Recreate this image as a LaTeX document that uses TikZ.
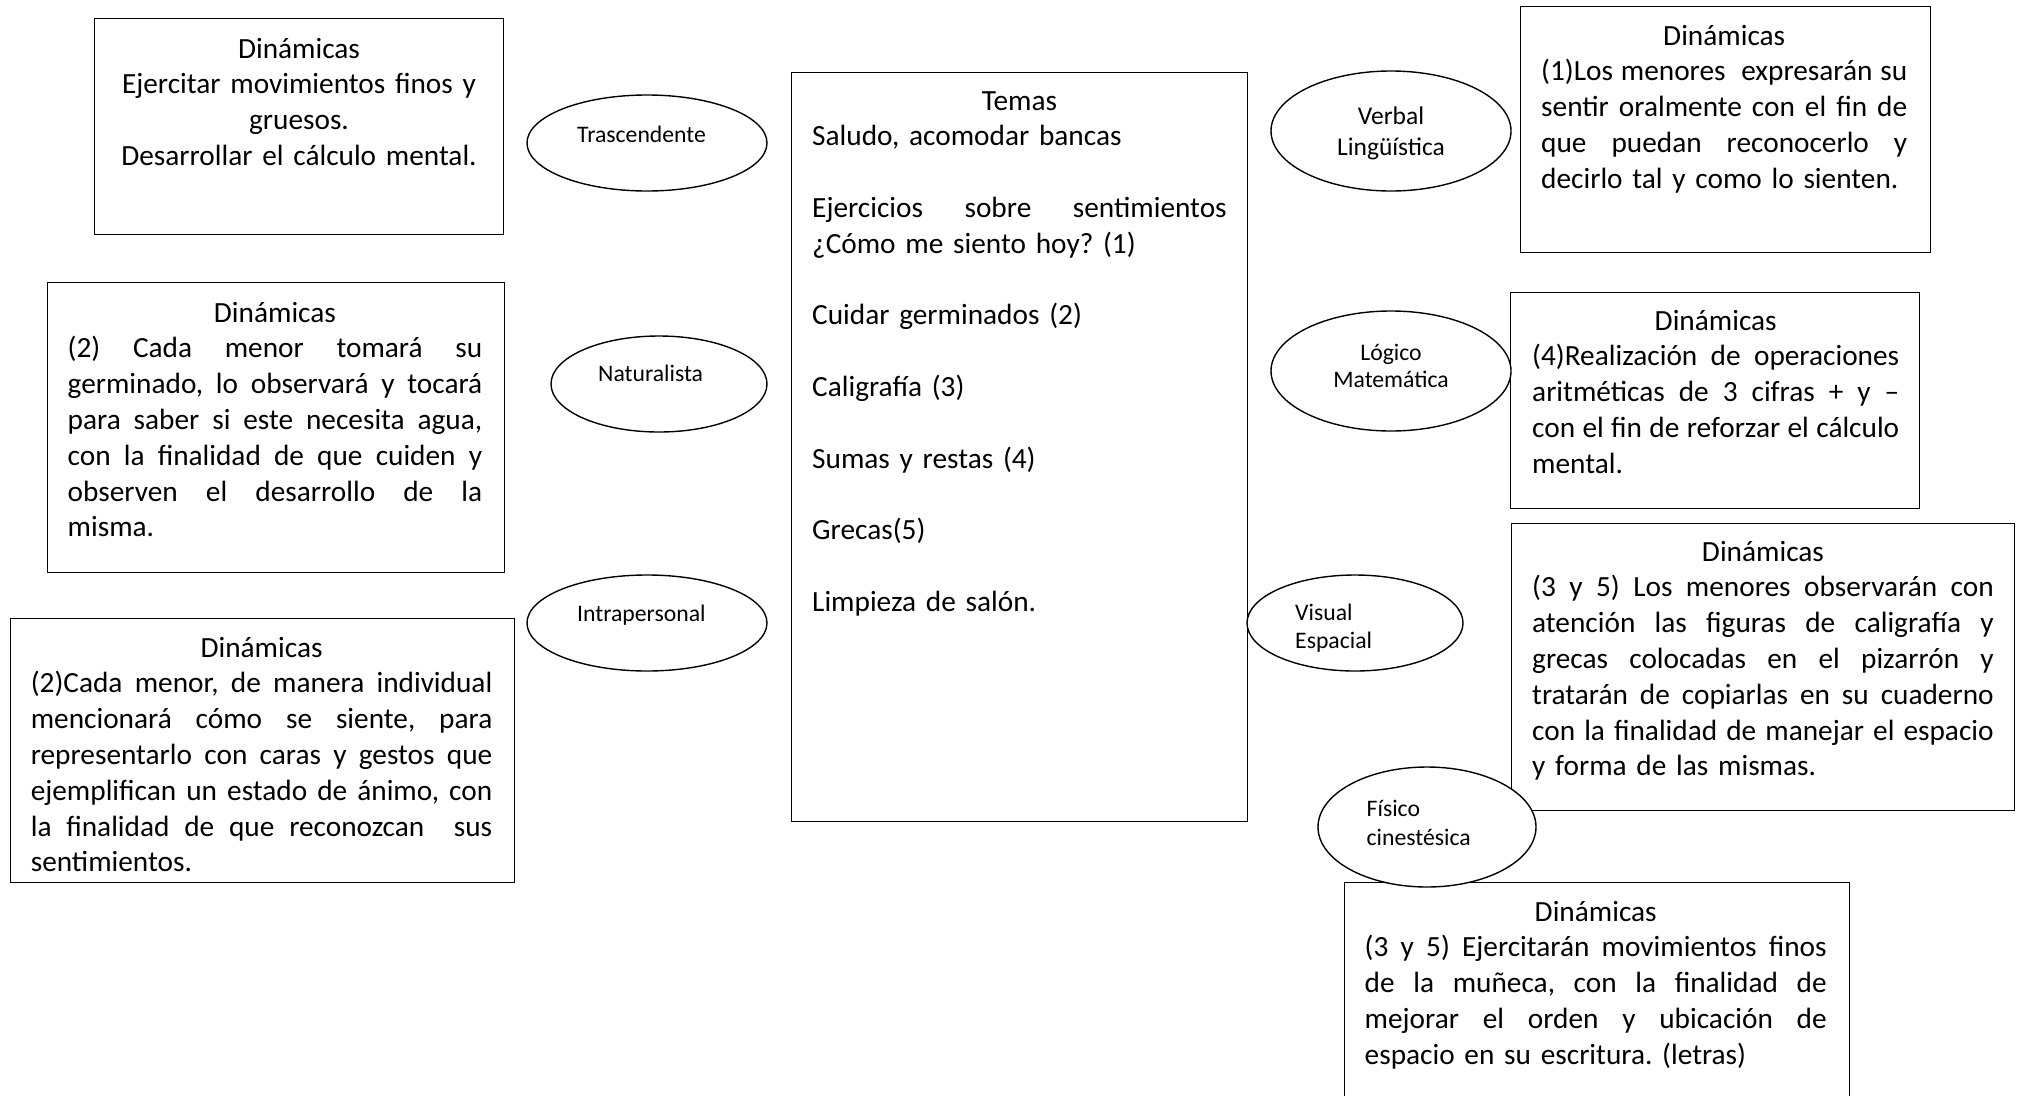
\documentclass[tikz,border=0pt]{standalone}
\usepackage{fontspec}
\setmainfont{Carlito}
\usetikzlibrary{shapes.geometric}
\frenchspacing

% one line stretched to the full text width: every interword space grows equally
\newcommand\jline[1]{\hbox to\linewidth{\spaceskip=\fontdimen2\font plus 1fil\relax #1}\par}
% one line centred in the text width
\newcommand\ctrline[1]{\makebox[\linewidth][c]{#1}\par}

\tikzset{
  box/.style={draw=black, line width=1.4pt, inner sep=0pt, anchor=north west},
  oval/.style={ellipse, draw=black, fill=white, line width=1.4pt, inner sep=0pt},
  txt/.style={inner sep=0pt, anchor=base west, font=\fontsize{29.3}{35.8}\selectfont},
  otxt/.style={inner sep=0pt, anchor=base west, font=\fontsize{23.7}{28.5}\selectfont},
}

\begin{document}
\begin{tikzpicture}[x=1pt, y=-1pt]
\useasboundingbox (0,0) rectangle (2021,1095);
\fill[white] (0,0) rectangle (2021,1095);
\clip (0,0) rectangle (2021,1095);

% ---------- boxes ----------
\node[box, minimum width=409pt, minimum height=216pt] (dynA) at (94,18) {};
\node[box, minimum width=457pt, minimum height=290pt] (dynB) at (47,282) {};
\node[box, minimum width=504pt, minimum height=264pt] (dynC) at (10,618) {};
\node[box, minimum width=456pt, minimum height=749pt] (temas) at (791,72) {};
\node[box, minimum width=410pt, minimum height=246pt] (dynD) at (1520,6) {};
\node[box, minimum width=409pt, minimum height=216pt] (dynE) at (1510,292) {};
\node[box, minimum width=503pt, minimum height=287pt] (dynF) at (1511,523) {};
\node[box, minimum width=505pt, minimum height=260pt] (dynG) at (1344,882) {};

% ---------- box texts ----------
\node[txt, anchor=base, text width=400pt] (tA) at (299,58) {%
  \ctrline{Dinámicas}
  \ctrline{Ejercitar movimientos finos y}
  \ctrline{gruesos.}
  \ctrline{Desarrollar el cálculo mental.}};

\node[txt, text width=414.5pt] (tB) at (67.5,322) {%
  \ctrline{Dinámicas}
  \jline{(2) Cada menor tomará su}
  \jline{germinado, lo observará y tocará}
  \jline{para saber si este necesita agua,}
  \jline{con la finalidad de que cuiden y}
  \jline{observen el desarrollo de la}
  misma.\par};

\node[txt, text width=461.5pt] (tC) at (30.6,657) {%
  \ctrline{Dinámicas}
  \jline{(2)Cada menor, de manera individual}
  \jline{mencionará cómo se siente, para}
  \jline{representarlo con caras y gestos que}
  \jline{ejemplifican un estado de ánimo, con}
  \jline{la finalidad de que reconozcan\ \ sus}
  sentimientos.\par};

\node[txt, text width=414.5pt] (tT) at (812,110) {%
  \ctrline{Temas}
  Saludo, acomodar bancas\par
  \mbox{}\par
  \jline{Ejercicios sobre sentimientos}
  ¿Cómo me siento hoy? (1)\par
  \mbox{}\par
  Cuidar germinados (2)\par
  \mbox{}\par
  Caligrafía (3)\par
  \mbox{}\par
  Sumas y restas (4)\par
  \mbox{}\par
  Grecas(5)\par
  \mbox{}\par
  Limpieza de salón.\par};

\node[txt, text width=366pt] (tD) at (1541,45) {%
  \ctrline{Dinámicas}
  \jline{(1)Los menores\ \ expresarán su}
  \jline{sentir oralmente con el fin de}
  \jline{que puedan reconocerlo y}
  decirlo tal y como lo sienten.\par};

\node[txt, text width=367pt] (tE) at (1532,330) {%
  \ctrline{Dinámicas}
  \jline{(4)Realización de operaciones}
  \jline{aritméticas de 3 cifras + y –}
  \jline{con el fin de reforzar el cálculo}
  mental.\par};

\node[txt, text width=461.5pt] (tF) at (1532,561) {%
  \ctrline{Dinámicas}
  \jline{(3 y 5) Los menores observarán con}
  \jline{atención las figuras de caligrafía y}
  \jline{grecas colocadas en el pizarrón y}
  \jline{tratarán de copiarlas en su cuaderno}
  \jline{con la finalidad de manejar el espacio}
  y forma de las mismas.\par};

\node[txt, text width=462pt] (tG) at (1364.5,921) {%
  \ctrline{Dinámicas}
  \jline{(3 y 5) Ejercitarán movimientos finos}
  \jline{de la muñeca, con la finalidad de}
  \jline{mejorar el orden y ubicación de}
  espacio en su escritura. (letras)\par};

% ---------- intelligences (ellipses) ----------
\node[oval, minimum width=240pt, minimum height=96pt] (trasc) at (647,143) {};
\node[otxt] (trascT) at (577,142) {Trascendente};

\node[oval, minimum width=216pt, minimum height=96pt] (natur) at (659,384) {};
\node[otxt] (naturT) at (598,381) {Naturalista};

\node[oval, minimum width=240pt, minimum height=96pt] (intra) at (647,623) {};
\node[otxt] (intraT) at (577,621) {Intrapersonal};

\node[oval, minimum width=240pt, minimum height=120pt] (verbal) at (1391,131) {};
\node[otxt, anchor=base, text width=200pt,
      font=\fontsize{25.5}{31}\selectfont] (verbalT) at (1391,124) {%
  \ctrline{Verbal}\ctrline{Lingüística}};

\node[oval, minimum width=240pt, minimum height=120pt] (logico) at (1391,371) {};
\node[otxt, anchor=base, text width=200pt,
      font=\fontsize{23.7}{27.5}\selectfont] (logicoT) at (1391,360) {%
  \ctrline{Lógico}\ctrline{Matemática}};

\node[oval, minimum width=216pt, minimum height=96pt] (visual) at (1355,623) {};
\node[otxt, text width=150pt,
      font=\fontsize{23.7}{28}\selectfont] (visualT) at (1295,620) {%
  Visual\par Espacial\par};

\node[oval, minimum width=218pt, minimum height=120pt] (fisico) at (1427,827) {};
\node[otxt, text width=150pt] (fisicoT) at (1366.5,816.5) {%
  Físico\par cinestésica\par};

\end{tikzpicture}
\end{document}
